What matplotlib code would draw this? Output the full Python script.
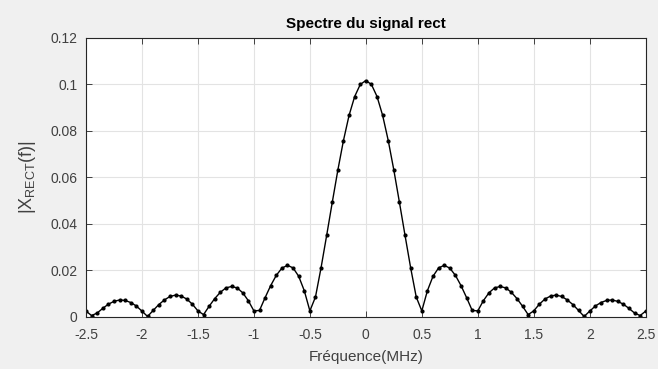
import matplotlib
matplotlib.use("Agg")
import matplotlib.pyplot as plt

# frequency grid (MHz) and |X_RECT(f)|
freq_mhz = [
    -2.50, -2.45, -2.40, -2.35, -2.30, -2.25, -2.20, -2.15, -2.10, -2.05,
    -2.00, -1.95, -1.90, -1.85, -1.80, -1.75, -1.70, -1.65, -1.60, -1.55,
    -1.50, -1.45, -1.40, -1.35, -1.30, -1.25, -1.20, -1.15, -1.10, -1.05,
    -1.00, -0.95, -0.90, -0.85, -0.80, -0.75, -0.70, -0.65, -0.60, -0.55,
    -0.50, -0.45, -0.40, -0.35, -0.30, -0.25, -0.20, -0.15, -0.10, -0.05,
    0.00,
    0.05, 0.10, 0.15, 0.20, 0.25, 0.30, 0.35, 0.40, 0.45, 0.50,
    0.55, 0.60, 0.65, 0.70, 0.75, 0.80, 0.85, 0.90, 0.95, 1.00,
    1.05, 1.10, 1.15, 1.20, 1.25, 1.30, 1.35, 1.40, 1.45, 1.50,
    1.55, 1.60, 1.65, 1.70, 1.75, 1.80, 1.85, 1.90, 1.95, 2.00,
    2.05, 2.10, 2.15, 2.20, 2.25, 2.30, 2.35, 2.40, 2.45, 2.50,
]
spectre = [
    0.0024, 0.0005, 0.0016, 0.0036, 0.0054, 0.0066, 0.0072, 0.0070, 0.0061, 0.0046,
    0.0024, 0.0001, 0.0027, 0.0052, 0.0072, 0.0087, 0.0093, 0.0089, 0.0076, 0.0054,
    0.0025, 0.0009, 0.0045, 0.0078, 0.0105, 0.0124, 0.0130, 0.0124, 0.0103, 0.0069,
    0.0025, 0.0027, 0.0082, 0.0134, 0.0178, 0.0209, 0.0221, 0.0210, 0.0174, 0.0112,
    0.0025, 0.0085, 0.0211, 0.0350, 0.0492, 0.0631, 0.0758, 0.0866, 0.0947, 0.0999,
    0.1016,
    0.0999, 0.0947, 0.0866, 0.0758, 0.0631, 0.0492, 0.0350, 0.0211, 0.0085, 0.0025,
    0.0112, 0.0174, 0.0210, 0.0221, 0.0209, 0.0178, 0.0134, 0.0082, 0.0027, 0.0025,
    0.0069, 0.0103, 0.0124, 0.0130, 0.0124, 0.0105, 0.0078, 0.0045, 0.0009, 0.0025,
    0.0054, 0.0076, 0.0089, 0.0093, 0.0087, 0.0072, 0.0052, 0.0027, 0.0001, 0.0024,
    0.0046, 0.0061, 0.0070, 0.0072, 0.0066, 0.0054, 0.0036, 0.0016, 0.0005, 0.0024,
]
xticks = [-2.5, -2, -1.5, -1, -0.5, 0, 0.5, 1, 1.5, 2, 2.5]
xticklabels = ["-2.5", "-2", "-1.5", "-1", "-0.5", "0", "0.5", "1", "1.5", "2", "2.5"]
yticks = [0, 0.02, 0.04, 0.06, 0.08, 0.1, 0.12]
yticklabels = ["0", "0.02", "0.04", "0.06", "0.08", "0.1", "0.12"]

plt.rcParams["font.family"] = ["Liberation Sans", "DejaVu Sans"]
plt.rcParams["mathtext.fontset"] = "custom"
plt.rcParams["mathtext.rm"] = "Liberation Sans"

ink = "#262626"
label_ink = "#404040"
fig = plt.figure(figsize=(6.58, 3.69), dpi=100, facecolor="#f0f0f0")
ax = fig.add_axes([0.1307, 0.1417, 0.8506, 0.756])
ax.set_facecolor("white")

ax.plot(freq_mhz, spectre, color="black", linewidth=1.0,
        marker=".", markersize=4)

ax.set_xlim(-2.5, 2.5)
ax.set_ylim(0, 0.12)
ax.set_xticks(xticks)
ax.set_xticklabels(xticklabels)
ax.set_yticks(yticks)
ax.set_yticklabels(yticklabels)
ax.grid(True, color="#e3e3e3", linewidth=0.8)
ax.set_axisbelow(True)
ax.tick_params(direction="in", length=4, width=0.6, colors=ink,
               labelcolor=label_ink, labelsize=10, top=True, right=True,
               labeltop=False, labelright=False)
ax.tick_params(axis="x", pad=8)
ax.tick_params(axis="y", pad=6)
for side in ax.spines.values():
    side.set_color(ink)
    side.set_linewidth(0.8)

ax.set_title("Spectre du signal rect", fontsize=11, fontweight="bold",
             color="black", pad=7)
ax.set_xlabel("Fréquence(MHz)", fontsize=11, color=label_ink, labelpad=6)
ax.set_ylabel(r"|X$_{\mathrm{RECT}}$(f)|", fontsize=13, color=label_ink,
              labelpad=9)

fig.savefig("out.png", dpi=100, facecolor=fig.get_facecolor())
